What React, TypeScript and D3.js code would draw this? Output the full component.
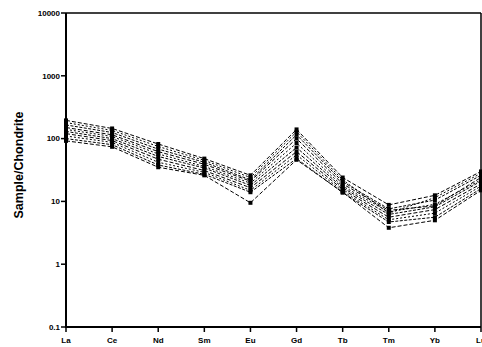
import React from "react";
import * as d3 from "d3";

const elements = ["La", "Ce", "Nd", "Sm", "Eu", "Gd", "Tb", "Tm", "Yb", "Lu"];
const yTicks = [0.1, 1, 10, 100, 1000, 10000];
const yTickLabels = ["0.1", "1", "10", "100", "1000", "10000"];

const s1 = [195, 145, 82, 48, 26, 140, 24, 8.8, 12.5, 30];
const s2 = [180, 135, 75, 45, 24, 128, 22, 6.5, 11.5, 28];
const s3 = [165, 125, 68, 42, 22, 115, 20.5, 7.6, 10.5, 26];
const s4 = [150, 115, 62, 39, 21, 100, 19, 7.2, 8.5, 24];
const s5 = [140, 108, 57, 36, 19.5, 85, 17.5, 6.8, 9, 22];
const s6 = [130, 100, 52, 34, 18, 72, 16.5, 6.2, 8.2, 21];
const s7 = [120, 93, 47, 31, 16.5, 62, 15.5, 5.6, 7.4, 19];
const s8 = [110, 87, 42, 29, 15, 55, 14.5, 5.1, 6.5, 17.5];
const s9 = [100, 80, 38, 27, 14, 48, 13.8, 4.7, 5.6, 16];
const s10 = [92, 74, 35, 26, 9.5, 46, 14, 3.8, 5, 15];
const series = [s1, s2, s3, s4, s5, s6, s7, s8, s9, s10];

const W = 482;
const H = 347;
const left = 66;
const right = 481;
const top = 13;
const bottom = 327;

export default function App() {
  const x = d3.scalePoint<string>().domain(elements).range([left, right]);
  const y = d3.scaleLog().domain([0.1, 10000]).range([bottom, top]);
  const line = d3
    .line<number>()
    .x((_, i) => x(elements[i]) as number)
    .y((d) => y(d));
  const font = "'Liberation Sans', Arial, sans-serif";
  return (
    <svg
      width={W}
      height={H}
      style={{ position: "absolute", left: 0, top: 0, background: "#fff" }}
      fontFamily={font}
    >
      <rect x={0} y={0} width={W} height={H} fill="#fff" />
      <line x1={left} x2={right} y1={top} y2={top} stroke="#000" strokeWidth={1.5} />
      <line x1={right} x2={right} y1={top} y2={bottom} stroke="#000" strokeWidth={1.5} />
      <line x1={left} x2={left} y1={top} y2={bottom + 1} stroke="#000" strokeWidth={2} />
      <line x1={left - 1} x2={right} y1={bottom} y2={bottom} stroke="#000" strokeWidth={2} />
      {yTicks.map((t, i) => (
        <g key={t}>
          <line x1={left - 5} x2={left} y1={y(t)} y2={y(t)} stroke="#000" strokeWidth={1.5} />
          <text
            x={left - 6}
            y={y(t)}
            dy="0.35em"
            textAnchor="end"
            fontSize={8}
            fontWeight="bold"
          >
            {yTickLabels[i]}
          </text>
        </g>
      ))}
      {elements.map((e) => (
        <g key={e}>
          <line
            x1={x(e) as number}
            x2={x(e) as number}
            y1={bottom}
            y2={bottom + 5}
            stroke="#000"
            strokeWidth={1.5}
          />
          <text
            x={x(e) as number}
            y={bottom + 16}
            textAnchor="middle"
            fontSize={8}
            fontWeight="bold"
          >
            {e}
          </text>
        </g>
      ))}
      <text
        transform={`translate(23,165) rotate(-90)`}
        textAnchor="middle"
        fontSize={12.5}
        fontWeight="bold"
      >
        Sample/Chondrite
      </text>
      {series.map((s, k) => (
        <g key={k}>
          <path
            d={line(s) as string}
            fill="none"
            stroke="#000"
            strokeWidth={1}
            strokeDasharray={k % 3 === 0 ? "4,2" : k % 3 === 1 ? "2,2" : "3,1.5"}
          />
          {s.map((v, i) => (
            <rect
              key={i}
              x={(x(elements[i]) as number) - 2}
              y={y(v) - 2}
              width={4}
              height={4}
              fill="#000"
            />
          ))}
        </g>
      ))}
    </svg>
  );
}
